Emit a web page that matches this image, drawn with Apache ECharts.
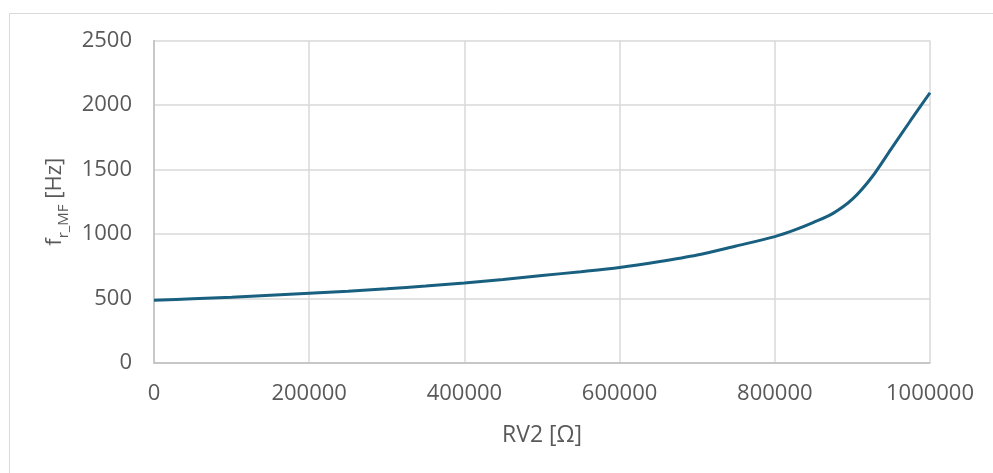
<!DOCTYPE html>
<html>
<head>
<meta charset="utf-8">
<script src="https://cdn.jsdelivr.net/npm/echarts@6/dist/echarts.min.js"></script>
<style>
  html, body { margin: 0; padding: 0; background: #fff; }
  #chart { width: 993px; height: 473px; }
</style>
</head>
<body>
<div id="chart"></div>
<script>
// Resistance RV2 in ohms and the resulting frequency f_r_MF in Hz
const rv2 = [0, 50000, 100000, 150000, 200000, 250000, 300000, 350000, 400000, 450000,
  500000, 550000, 600000, 650000, 700000, 750000, 800000, 825000, 850000, 875000, 900000,
  925000, 950000, 975000, 1000000];
const freq = [487, 498, 510, 525, 541, 557, 575, 597, 621, 648,
  678, 708, 741, 785, 837, 907, 980, 1030, 1090, 1160, 1270,
  1440, 1660, 1880, 2095];
const xTicks = [0, 200000, 400000, 600000, 800000, 1000000];
const yTicks = [0, 500, 1000, 1500, 2000, 2500];

const font = '"Open Sans", "Liberation Sans", sans-serif';
const textColor = '#595959';
const chart = echarts.init(document.getElementById('chart'), null, { renderer: 'canvas' });

chart.setOption({
  animation: false,
  backgroundColor: '#ffffff',
  graphic: [{
    type: 'rect',
    left: 7, top: 11,
    shape: { width: 1000, height: 500 },
    style: { fill: 'none', stroke: '#d9d9d9', lineWidth: 1 },
    silent: true
  }],
  grid: { left: 154, right: 63, top: 40.5, bottom: 110 },
  xAxis: {
    type: 'value',
    min: xTicks[0], max: xTicks[xTicks.length - 1], interval: 200000,
    name: 'RV2 [Ω]',
    nameLocation: 'middle',
    nameGap: 61,
    nameTextStyle: { fontFamily: font, fontSize: 23, color: textColor },
    axisLine: { show: true, lineStyle: { color: '#bfbfbf', width: 1.5 } },
    axisTick: { show: false },
    axisLabel: {
      margin: 20, fontFamily: font, fontSize: 22, color: textColor,
      formatter: v => String(v)
    },
    splitLine: { show: true, lineStyle: { color: '#d9d9d9', width: 1.5 } }
  },
  yAxis: {
    type: 'value',
    min: yTicks[0], max: yTicks[yTicks.length - 1], interval: 500,
    name: '{m|f}{s|r_MF}{m| [Hz]}',
    nameLocation: 'middle',
    nameGap: 84,
    nameRotate: 90,
    nameTextStyle: {
      color: textColor,
      rich: {
        m: { fontFamily: font, fontSize: 22, color: textColor, verticalAlign: 'bottom', lineHeight: 26 },
        s: { fontFamily: font, fontSize: 15, color: textColor, verticalAlign: 'bottom', lineHeight: 18, padding: [0, 0, -5, 0] }
      }
    },
    axisLine: { show: true, lineStyle: { color: '#bfbfbf', width: 1.5 } },
    axisTick: { show: false },
    axisLabel: {
      margin: 22, fontFamily: font, fontSize: 22, color: textColor,
      formatter: v => String(v)
    },
    splitLine: { show: true, lineStyle: { color: '#d9d9d9', width: 1.5 } }
  },
  series: [{
    type: 'line',
    data: rv2.map((x, i) => [x, freq[i]]),
    smooth: 0.3,
    showSymbol: false,
    lineStyle: { color: '#196080', width: 3 }
  }]
});
</script>
</body>
</html>
